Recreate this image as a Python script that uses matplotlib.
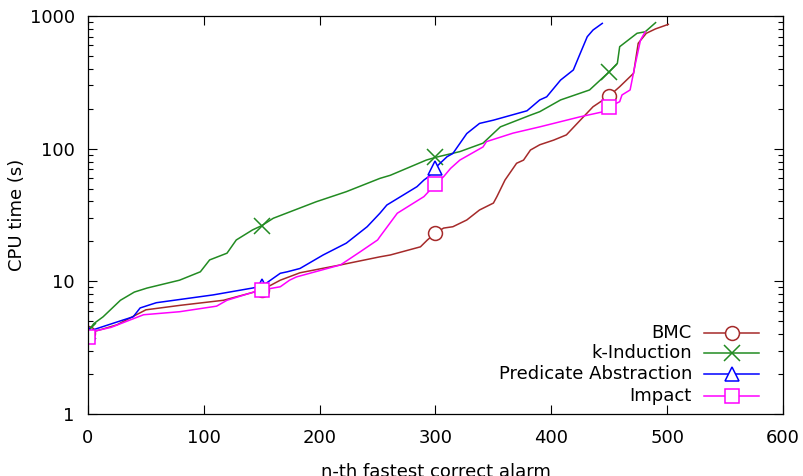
import matplotlib
matplotlib.use('Agg')
import matplotlib.pyplot as plt
from matplotlib.ticker import LogLocator, FixedLocator, NullFormatter

# Werte (x = n-th fastest correct alarm, y = CPU time in s)
bmc_x = [0, 10, 25, 40, 50, 80, 117, 150, 166, 183, 218, 252, 261, 287, 293, 300, 307, 315, 327,
         338, 350, 353, 360, 370, 376, 382, 390, 402, 413, 425, 436, 450, 459, 471, 475, 482, 490, 501]
bmc_y = [4.1, 4.3, 4.7, 5.5, 6.1, 6.6, 7.2, 8.6, 10.2, 11.6, 13.3, 15.3, 15.8, 18.2, 20.5, 23.1, 25.2,
         25.8, 29, 34.5, 38.9, 43.5, 58, 77.6, 82, 97.7, 107, 116, 127, 164, 207, 250, 293, 370, 623,
         741, 800, 865]

kind_x = [0, 5, 13, 28, 40, 51, 79, 97, 105, 120, 128, 142, 150, 160, 197, 223, 252, 261, 292, 300,
          321, 341, 356, 382, 390, 408, 433, 450, 457, 459, 474, 481, 490]
kind_y = [4.2, 4.8, 5.4, 7.2, 8.3, 8.9, 10.2, 11.8, 14.5, 16.3, 20.5, 24.4, 26.3, 29.9, 39.8, 47.4,
          59.7, 63, 82, 86, 95, 110, 146, 179, 190, 233, 277, 380, 440, 587, 741, 760, 891]

pa_x = [0, 4, 30, 39, 45, 59, 108, 142, 150, 154, 166, 172, 183, 203, 223, 241, 252, 258, 284, 290,
        294, 300, 310, 315, 327, 338, 350, 379, 390, 396, 408, 419, 425, 431, 436, 444]
pa_y = [4.1, 4.3, 5.1, 5.4, 6.3, 6.9, 7.9, 8.9, 9.2, 9.7, 11.5, 11.8, 12.5, 15.8, 19.4, 25.8, 32.6,
        37.6, 51.7, 58, 61.5, 72, 87, 92, 130, 155, 164, 193, 233, 246, 329, 392, 524, 698, 784, 880]

imp_x = [0, 5, 20, 36, 48, 79, 111, 120, 143, 150, 166, 174, 180, 218, 235, 250, 252, 267, 290, 300,
         307, 313, 321, 341, 344, 367, 390, 425, 445, 450, 459, 461, 468, 472, 477, 481]
imp_y = [3.8, 4.2, 4.5, 5.1, 5.6, 5.9, 6.5, 7.2, 8.3, 8.6, 9.1, 10.2, 10.8, 13.3, 16.7, 20.5, 21.7,
         32.6, 43.5, 54, 61.5, 71, 82, 103, 113, 131, 146, 174, 190, 207, 226, 254, 277, 415, 659, 760]

mark_at = [0, 150, 300, 450]

series = [
    ('BMC', bmc_x, bmc_y, '#a52a2a', 'o', 10),
    ('k-Induction', kind_x, kind_y, '#228b22', 'x', 11),
    ('Predicate Abstraction', pa_x, pa_y, '#0000ff', '^', 10),
    ('Impact', imp_x, imp_y, '#ff00ff', 's', 10),
]

plt.rcParams['font.family'] = 'DejaVu Sans'
fig = plt.figure(figsize=(8.04, 4.76), dpi=100)
ax = fig.add_axes([88 / 804, 62 / 476, 695 / 804, 398 / 476])

for name, xs, ys, col, mk, ms in series:
    idx = [i for i, v in enumerate(xs) if v in mark_at]
    ax.plot(xs, ys, color=col, lw=1.1, marker=mk, markevery=idx, markersize=ms,
            markerfacecolor='white' if mk != 'x' else col, markeredgecolor=col, markeredgewidth=1.1)

ax.set_yscale('log')
ax.set_xlim(0, 600)
ax.set_ylim(1, 1000)
ax.xaxis.set_major_locator(FixedLocator([0, 100, 200, 300, 400, 500, 600]))
ax.yaxis.set_major_locator(FixedLocator([1, 10, 100, 1000]))
ax.set_yticklabels(['1', '10', '100', '1000'])
ax.yaxis.set_minor_locator(LogLocator(base=10, subs=range(2, 10)))
ax.yaxis.set_minor_formatter(NullFormatter())

ax.tick_params(which='both', direction='in', top=True, right=True, labelsize=13, width=0.8)
ax.tick_params(axis='x', which='major', length=6.5, pad=11)
ax.tick_params(axis='y', which='major', length=6.5, pad=9.5)
ax.tick_params(which='minor', length=3.6)
for sp in ax.spines.values():
    sp.set_linewidth(0.9)

ax.set_xlabel('n-th fastest correct alarm', fontsize=13, labelpad=11)
ax.set_ylabel('CPU time (s)', fontsize=13, labelpad=3)

# Legende wie bei gnuplot: Text rechtsbuendig, Linienprobe rechts daneben
leg_y = [333, 353, 374, 396]
for (name, xs, ys, col, mk, ms), py in zip(series, leg_y):
    yy = 1 - (py - 16) / 398
    ax.text((692 - 88) / 695, yy, name, transform=ax.transAxes, ha='right', va='center', fontsize=13)
    ax.plot([(704 - 88) / 695, (759 - 88) / 695], [yy, yy], transform=ax.transAxes, color=col,
            lw=1.1, clip_on=False)
    ax.plot([(732 - 88) / 695], [yy], transform=ax.transAxes, color=col, marker=mk, markersize=ms,
            markerfacecolor='white' if mk != 'x' else col, markeredgecolor=col, markeredgewidth=1.1,
            clip_on=False)

fig.savefig('out.png', dpi=100)
